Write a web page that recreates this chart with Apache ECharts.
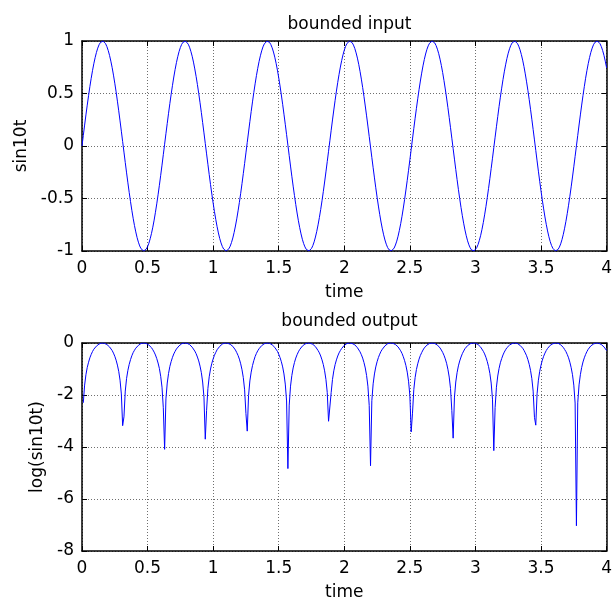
<!DOCTYPE html>
<html>
<head>
<meta charset="utf-8">
<script src="https://cdn.jsdelivr.net/npm/echarts@6/dist/echarts.min.js"></script>
<style>
  html, body { margin: 0; padding: 0; background: #fff; }
  #chart { width: 615px; height: 605px; }
</style>
</head>
<body>
<div id="chart"></div>
<script>
// Sample spacing of the time axis (s); first sample at t = 0
const tStep = 0.01;

// Top panel: sin10t, one value per sample (t = 0 .. 4)
const sinValues = [
  0, 0.100, 0.199, 0.296, 0.389, 0.479, 0.565, 0.644, 0.717, 0.783, 0.841, 0.891, 0.932, 0.964, 0.985, 0.997, 1.000, 0.992, 0.974, 0.946, 0.909, 0.863, 0.808, 0.746, 0.675, 0.598, 0.516, 0.427, 0.335, 0.239, 0.141, 0.042, -0.058, -0.158, -0.256, -0.351, -0.443, -0.530, -0.612, -0.688, -0.757, -0.818, -0.872, -0.916, -0.952, -0.978, -0.994, -1.000, -0.996, -0.982, -0.959, -0.926, -0.883, -0.832, -0.773, -0.706, -0.631, -0.551, -0.465, -0.374, -0.279, -0.182, -0.083,
  0.017, 0.117, 0.215, 0.312, 0.405, 0.494, 0.578, 0.657, 0.729, 0.794, 0.850, 0.899, 0.938, 0.968, 0.988, 0.999, 0.999, 0.989, 0.970, 0.941, 0.902, 0.855, 0.799, 0.734, 0.663, 0.585, 0.501, 0.412, 0.319, 0.223, 0.125, 0.025, -0.075, -0.174, -0.272, -0.367, -0.458, -0.544, -0.625, -0.700, -0.768, -0.828, -0.880, -0.923, -0.957, -0.981, -0.995, -1.000, -0.995, -0.979, -0.954, -0.919, -0.876, -0.823, -0.762, -0.694, -0.618, -0.537, -0.450, -0.358, -0.263, -0.166, -0.066,
  0.034, 0.133, 0.232, 0.328, 0.420, 0.509, 0.592, 0.670, 0.740, 0.804, 0.859, 0.906, 0.944, 0.972, 0.991, 0.999, 0.998, 0.987, 0.966, 0.935, 0.895, 0.846, 0.788, 0.723, 0.650, 0.571, 0.486, 0.397, 0.303, 0.207, 0.108, 0.008, -0.092, -0.191, -0.288, -0.382, -0.472, -0.558, -0.638, -0.712, -0.778, -0.837, -0.888, -0.929, -0.961, -0.984, -0.997, -1.000, -0.993, -0.976, -0.949, -0.913, -0.867, -0.813, -0.751, -0.681, -0.605, -0.522, -0.435, -0.343, -0.247, -0.149, -0.050,
  0.050, 0.150, 0.248, 0.343, 0.435, 0.523, 0.606, 0.682, 0.752, 0.814, 0.868, 0.913, 0.949, 0.976, 0.993, 1.000, 0.997, 0.984, 0.961, 0.929, 0.887, 0.837, 0.778, 0.711, 0.637, 0.557, 0.472, 0.381, 0.287, 0.190, 0.091, -0.009, -0.109, -0.207, -0.304, -0.398, -0.487, -0.572, -0.651, -0.724, -0.789, -0.846, -0.895, -0.935, -0.966, -0.987, -0.998, -0.999, -0.991, -0.972, -0.943, -0.906, -0.859, -0.803, -0.740, -0.669, -0.591, -0.508, -0.419, -0.327, -0.231, -0.132, -0.033,
  0.067, 0.167, 0.264, 0.359, 0.450, 0.537, 0.619, 0.694, 0.763, 0.823, 0.876, 0.920, 0.954, 0.979, 0.995, 1.000, 0.995, 0.981, 0.956, 0.922, 0.879, 0.827, 0.767, 0.699, 0.624, 0.543, 0.457, 0.366, 0.271, 0.174, 0.074, -0.026, -0.125, -0.224, -0.320, -0.413, -0.502, -0.586, -0.664, -0.735, -0.799, -0.855, -0.903, -0.941, -0.970, -0.990, -0.999, -0.999, -0.988, -0.968, -0.938, -0.898, -0.850, -0.793, -0.728, -0.656, -0.578, -0.493, -0.404, -0.311, -0.214, -0.116, -0.016,
  0.084, 0.183, 0.280, 0.375, 0.465, 0.551, 0.632, 0.706, 0.773, 0.833, 0.884, 0.926, 0.959, 0.983, 0.996, 1.000, 0.994, 0.977, 0.951, 0.916, 0.871, 0.818, 0.756, 0.687, 0.611, 0.529, 0.442, 0.350, 0.255, 0.157, 0.058, -0.042, -0.142, -0.240, -0.336, -0.428, -0.516, -0.599, -0.676, -0.746, -0.809, -0.864, -0.910, -0.947, -0.974, -0.992, -1.000, -0.997, -0.985, -0.963, -0.932, -0.891, -0.841, -0.783, -0.717, -0.644, -0.564, -0.479, -0.389, -0.295, -0.198, -0.099, 0.001,
  0.101, 0.200, 0.296, 0.390, 0.480, 0.565, 0.645, 0.718, 0.784, 0.842, 0.892, 0.932, 0.964, 0.986, 0.998, 1.000, 0.992, 0.974, 0.946, 0.909, 0.863, 0.808, 0.745
];

// Bottom panel: log(sin10t), one value per sample (first sample is -Inf, not drawn)
const logValues = [
  null, -2.30, -1.62, -1.22, -0.94, -0.74, -0.57, -0.44, -0.33, -0.24, -0.17, -0.12, -0.07, -0.04, -0.01, 0, 0, -0.01, -0.03, -0.06, -0.10, -0.15, -0.21, -0.29, -0.39, -0.51, -0.66, -0.85, -1.09, -1.43, -1.96, -3.18, -2.84, -1.85, -1.36, -1.05, -0.82, -0.64, -0.49, -0.37, -0.28, -0.20, -0.14, -0.09, -0.05, -0.02, -0.01, 0, 0, -0.02, -0.04, -0.08, -0.12, -0.18, -0.26, -0.35, -0.46, -0.60, -0.77, -0.98, -1.28, -1.70, -2.49,
  -4.09, -2.15, -1.54, -1.17, -0.90, -0.71, -0.55, -0.42, -0.32, -0.23, -0.16, -0.11, -0.06, -0.03, -0.01, 0, 0, -0.01, -0.03, -0.06, -0.10, -0.16, -0.23, -0.31, -0.41, -0.54, -0.69, -0.89, -1.14, -1.50, -2.08, -3.70, -2.59, -1.75, -1.30, -1.00, -0.78, -0.61, -0.47, -0.36, -0.26, -0.19, -0.13, -0.08, -0.04, -0.02, 0, 0, -0.01, -0.02, -0.05, -0.08, -0.13, -0.20, -0.27, -0.37, -0.48, -0.62, -0.80, -1.03, -1.33, -1.80, -2.71,
  -3.39, -2.02, -1.46, -1.12, -0.87, -0.68, -0.52, -0.40, -0.30, -0.22, -0.15, -0.10, -0.06, -0.03, -0.01, 0, 0, -0.01, -0.03, -0.07, -0.11, -0.17, -0.24, -0.32, -0.43, -0.56, -0.72, -0.92, -1.19, -1.58, -2.23, -4.83, -2.39, -1.66, -1.25, -0.96, -0.75, -0.58, -0.45, -0.34, -0.25, -0.18, -0.12, -0.07, -0.04, -0.02, 0, 0, -0.01, -0.02, -0.05, -0.09, -0.14, -0.21, -0.29, -0.38, -0.50, -0.65, -0.83, -1.07, -1.40, -1.90, -3.01,
  -2.99, -1.90, -1.40, -1.07, -0.83, -0.65, -0.50, -0.38, -0.29, -0.21, -0.14, -0.09, -0.05, -0.02, -0.01, 0, 0, -0.02, -0.04, -0.07, -0.12, -0.18, -0.25, -0.34, -0.45, -0.58, -0.75, -0.96, -1.25, -1.66, -2.40, -4.72, -2.22, -1.57, -1.19, -0.92, -0.72, -0.56, -0.43, -0.32, -0.24, -0.17, -0.11, -0.07, -0.03, -0.01, 0, 0, -0.01, -0.03, -0.06, -0.10, -0.15, -0.22, -0.30, -0.40, -0.53, -0.68, -0.87, -1.12, -1.47, -2.02, -3.42,
  -2.70, -1.79, -1.33, -1.02, -0.80, -0.62, -0.48, -0.37, -0.27, -0.19, -0.13, -0.08, -0.05, -0.02, -0.01, 0, 0, -0.02, -0.04, -0.08, -0.13, -0.19, -0.27, -0.36, -0.47, -0.61, -0.78, -1.01, -1.31, -1.75, -2.60, -3.66, -2.08, -1.50, -1.14, -0.88, -0.69, -0.54, -0.41, -0.31, -0.22, -0.16, -0.10, -0.06, -0.03, -0.01, 0, 0, -0.01, -0.03, -0.06, -0.11, -0.16, -0.23, -0.32, -0.42, -0.55, -0.71, -0.91, -1.17, -1.54, -2.16, -4.14,
  -2.48, -1.70, -1.27, -0.98, -0.76, -0.60, -0.46, -0.35, -0.26, -0.18, -0.12, -0.08, -0.04, -0.02, 0, 0, -0.01, -0.02, -0.05, -0.09, -0.14, -0.20, -0.28, -0.38, -0.49, -0.64, -0.82, -1.05, -1.37, -1.85, -2.86, -3.16, -1.95, -1.43, -1.09, -0.85, -0.66, -0.51, -0.39, -0.29, -0.21, -0.15, -0.09, -0.05, -0.03, -0.01, 0, 0, -0.01, -0.04, -0.07, -0.12, -0.17, -0.25, -0.33, -0.44, -0.57, -0.74, -0.95, -1.22, -1.62, -2.31, -7.03,
  -2.30, -1.61, -1.22, -0.94, -0.73, -0.57, -0.44, -0.33, -0.24, -0.17, -0.11, -0.07, -0.04, -0.01, 0, 0, -0.01, -0.03, -0.06, -0.10, -0.15, -0.21, -0.29
];

// Texts and axis ranges
const titles = ['bounded input', 'bounded output'];
const yNames = ['sin10t', 'log(sin10t)'];
const xName = 'time';
const xRange = { min: 0, max: 4, interval: 0.5 };
const yRanges = [{ min: -1, max: 1, interval: 0.5 }, { min: -8, max: 0, interval: 2 }];

const FONT = 'DejaVu Sans';
const FS = 17;

function toPairs(vals) {
  return vals.map((v, i) => [Math.round(i) * tStep, v]);
}

const gridDefs = [
  { left: 82, top: 41, width: 525, height: 210 },
  { left: 82, top: 343, width: 525, height: 208 }
];

const splitLine = { show: true, lineStyle: { color: '#6e6e6e', type: [1, 2], width: 1 } };
const axisLine = { show: true, onZero: false, lineStyle: { color: '#000', width: 1.5 } };
const tick = { show: true, inside: true, length: 5, lineStyle: { color: '#000', width: 1 } };
const labelStyle = { color: '#000', fontFamily: FONT, fontSize: FS };

const xAxes = [];
const yAxes = [];
[0, 1].forEach(g => {
  xAxes.push({
    type: 'value', gridIndex: g, position: 'bottom',
    min: xRange.min, max: xRange.max, interval: xRange.interval,
    axisLine, axisTick: tick, splitLine,
    axisLabel: Object.assign({ margin: 9, showMinLabel: true, showMaxLabel: true }, labelStyle),
    name: xName, nameLocation: 'middle', nameGap: 33,
    nameTextStyle: { color: '#000', fontFamily: FONT, fontSize: FS }
  });
  xAxes.push({
    type: 'value', gridIndex: g, position: 'top',
    min: xRange.min, max: xRange.max, interval: xRange.interval,
    axisLine, axisTick: tick, splitLine: { show: false }, axisLabel: { show: false }
  });
  yAxes.push({
    type: 'value', gridIndex: g, position: 'left',
    min: yRanges[g].min, max: yRanges[g].max, interval: yRanges[g].interval,
    axisLine, axisTick: tick, splitLine,
    axisLabel: Object.assign({ margin: 8, showMinLabel: true, showMaxLabel: true }, labelStyle),
    name: yNames[g], nameLocation: 'middle', nameRotate: 90, nameGap: g === 0 ? 52 : 31,
    nameTextStyle: { color: '#000', fontFamily: FONT, fontSize: FS }
  });
  yAxes.push({
    type: 'value', gridIndex: g, position: 'right',
    min: yRanges[g].min, max: yRanges[g].max, interval: yRanges[g].interval,
    axisLine, axisTick: tick, splitLine: { show: false }, axisLabel: { show: false }
  });
});

const chart = echarts.init(document.getElementById('chart'), null, { renderer: 'canvas' });
chart.setOption({
  animation: false,
  backgroundColor: '#fff',
  title: titles.map((t, i) => ({
    text: t, left: 344.5, top: i === 0 ? 11 : 308.5, textAlign: 'center',
    textStyle: { color: '#000', fontFamily: FONT, fontSize: FS, fontWeight: 'normal' }
  })),
  grid: gridDefs,
  xAxis: xAxes,
  yAxis: yAxes,
  series: [
    {
      type: 'line', xAxisIndex: 0, yAxisIndex: 0, data: toPairs(sinValues),
      showSymbol: false, symbol: 'none', lineStyle: { color: '#0000ff', width: 1 }, z: 3
    },
    {
      type: 'line', xAxisIndex: 2, yAxisIndex: 2, data: toPairs(logValues),
      showSymbol: false, symbol: 'none', connectNulls: false, lineStyle: { color: '#0000ff', width: 1 }, z: 3
    }
  ]
});
</script>
</body>
</html>
